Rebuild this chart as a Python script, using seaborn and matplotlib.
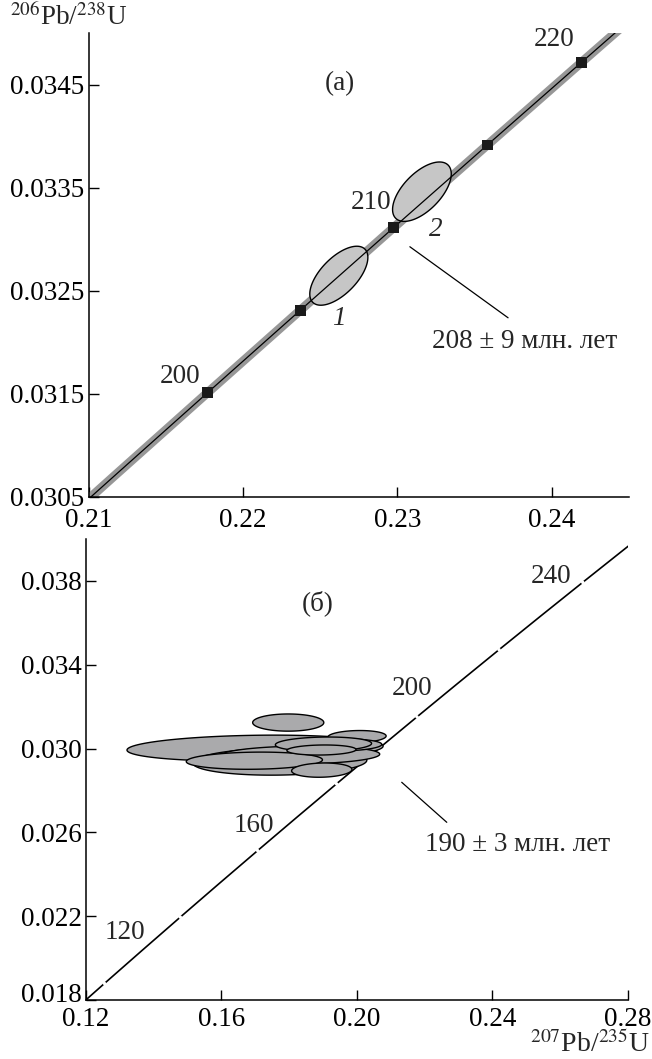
import numpy as np
import pandas as pd
import seaborn as sns
import matplotlib.pyplot as plt
from matplotlib.transforms import ScaledTranslation

# --- данные ---
# конкордия (возраст, млн лет; 207Pb/235U; 206Pb/238U)
conc_age_a = [190, 195, 200, 205, 210, 215, 220, 225]
conc_x_a = [0.205773, 0.211725, 0.217707, 0.223718, 0.229759, 0.235830, 0.241930, 0.248061]
conc_y_a = [0.0299124, 0.0307115, 0.0315113, 0.0323117, 0.0331127, 0.0339143, 0.0347165, 0.0355194]

conc_age_b = [110, 120, 130, 140, 150, 160, 170, 180, 190, 200, 210, 220, 230, 240, 250, 260]
conc_x_b = [0.114419, 0.125449, 0.136588, 0.147837, 0.159197, 0.170670, 0.182256, 0.193957,
            0.205773, 0.217707, 0.229759, 0.241930, 0.254222, 0.266635, 0.279171, 0.291832]
conc_y_b = [0.0172102, 0.0187893, 0.0203710, 0.0219550, 0.0235416, 0.0251306, 0.0267221, 0.0283160,
            0.0299124, 0.0315113, 0.0331127, 0.0347165, 0.0363229, 0.0379317, 0.0395431, 0.0411569]

# отметки возраста на панели (а)
mark_ages_a = [200, 205, 210, 215, 220]
mark_x_a = [0.217707, 0.223718, 0.229759, 0.235830, 0.241930]
mark_y_a = [0.0315113, 0.0323117, 0.0331127, 0.0339143, 0.0347165]

# разрывы на конкордии панели (б)
gap_ages_b = [120, 140, 160, 180, 200, 220, 240]
gap_x_b = [0.125449, 0.147837, 0.170670, 0.193957, 0.217707, 0.241930, 0.266635]
gap_y_b = [0.0187893, 0.0219550, 0.0251306, 0.0283160, 0.0315113, 0.0347165, 0.0379317]

# эллипсы погрешностей: центр x, центр y, полуширина x, полуширина y, корреляция
ell_a_x = [0.22621, 0.23159]
ell_a_y = [0.032646, 0.033461]
ell_a_sx = [0.00188, 0.00190]
ell_a_sy = [0.000286, 0.000288]
ell_a_rho = [0.62, 0.6]
ell_a_num = ["1", "2"]

ell_b_x = [0.1699, 0.1772, 0.1831, 0.1697, 0.2000, 0.1952, 0.1901, 0.1895, 0.1896, 0.1797]
ell_b_y = [0.03002, 0.02938, 0.02969, 0.02942, 0.03057, 0.03017, 0.03021, 0.02993, 0.02897, 0.03124]
ell_b_sx = [0.0378, 0.0257, 0.0236, 0.0201, 0.0086, 0.0121, 0.0142, 0.0102, 0.0089, 0.0105]
ell_b_sy = [0.00062, 0.00065, 0.00043, 0.00041, 0.00029, 0.00029, 0.00034, 0.00024, 0.00034, 0.00041]
ell_b_rho = [0.15, 0.1, 0.1, 0.1, 0.1, 0.1, 0.1, 0.1, 0.1, 0.0]

sns.set_theme(style="ticks")
plt.rcParams['font.family'] = ['Liberation Serif', 'DejaVu Serif']
plt.rcParams['mathtext.fontset'] = 'stix'
FS = 19.5


def ellipse(ax, cx, cy, sx, sy, rho, fc):
    t = np.linspace(0, 2 * np.pi, 300)
    x = cx + sx * np.cos(t)
    y = cy + sy * (rho * np.cos(t) + np.sqrt(1 - rho ** 2) * np.sin(t))
    ax.fill(x, y, facecolor=fc, edgecolor="black", lw=1.0, zorder=3)


def style_axes(ax, xpad):
    sns.despine(ax=ax)
    for s in ["left", "bottom"]:
        ax.spines[s].set_linewidth(1.1)
        ax.spines[s].set_color("black")
    ax.tick_params(direction="in", length=7, width=1.0, colors="black", labelsize=FS)
    ax.tick_params(axis="x", pad=xpad)
    ax.tick_params(axis="y", pad=3)
    ax.set_facecolor("white")
    ax.set_xlabel("")
    ax.set_ylabel("")


fig = plt.figure(figsize=(6.52, 10.59), dpi=100)
ax1 = fig.add_axes([88.5 / 652, (1059 - 497) / 1059, 540.5 / 652, 464 / 1059])
ax2 = fig.add_axes([86 / 652, 59 / 1059, 542 / 652, 461 / 1059])

# ---- панель (а) ----
da = pd.DataFrame({"x": conc_x_a, "y": conc_y_a})
sns.lineplot(data=da, x="x", y="y", ax=ax1, color="#979797", lw=6.5, zorder=1,
             solid_capstyle="butt")
for i in range(len(ell_a_x)):
    ellipse(ax1, ell_a_x[i], ell_a_y[i], ell_a_sx[i], ell_a_sy[i], ell_a_rho[i], "#c6c6c6")
sns.lineplot(data=da, x="x", y="y", ax=ax1, color="black", lw=0.9, zorder=4)
ma = pd.DataFrame({"x": mark_x_a, "y": mark_y_a})
sns.scatterplot(data=ma, x="x", y="y", ax=ax1, marker="s", s=60, color="#1a1a1a",
                edgecolor="none", zorder=5)

ax1.set_xlim(0.21, 0.245)
ax1.set_ylim(0.0305, 0.0350)
ax1.set_xticks([0.21, 0.22, 0.23, 0.24])
ax1.set_xticklabels(["0.21", "0.22", "0.23", "0.24"])
ax1.set_yticks([0.0305, 0.0315, 0.0325, 0.0335, 0.0345])
ax1.set_yticklabels(["0.0305", "0.0315", "0.0325", "0.0335", "0.0345"])
style_axes(ax1, 8)

ax1.text(0.2263, 0.03451, "(а)", fontsize=FS, ha="center", va="center")
ax1.text(0.2415, 0.03494, "220", fontsize=FS, ha="right", va="center")
ax1.text(0.22964, 0.03336, "210", fontsize=FS, ha="right", va="center")
ax1.text(0.21722, 0.03167, "200", fontsize=FS, ha="right", va="center")
ax1.text(0.22621, 0.03223, ell_a_num[0], fontsize=FS, style="italic", ha="center", va="center")
ax1.text(0.23249, 0.03309, ell_a_num[1], fontsize=FS, style="italic", ha="center", va="center")
ax1.plot([0.23081, 0.23717], [0.032927, 0.032238], color="black", lw=0.9)
ax1.text(0.23825, 0.032005, "208 ± 9 млн. лет", fontsize=FS, ha="center", va="center")

# ---- панель (б) ----
db = pd.DataFrame({"x": conc_x_b, "y": conc_y_b})
sns.lineplot(data=db, x="x", y="y", ax=ax2, color="black", lw=1.2, zorder=1)
gb = pd.DataFrame({"x": gap_x_b, "y": gap_y_b})
sns.scatterplot(data=gb, x="x", y="y", ax=ax2, marker="o", s=6, color="white",
                edgecolor="none", zorder=2)
for i in range(len(ell_b_x)):
    ellipse(ax2, ell_b_x[i], ell_b_y[i], ell_b_sx[i], ell_b_sy[i], ell_b_rho[i], "#aaaaac")

ax2.set_xlim(0.12, 0.28)
ax2.set_ylim(0.018, 0.040)
ax2.set_xticks([0.12, 0.16, 0.20, 0.24, 0.28])
ax2.set_xticklabels(["0.12", "0.16", "0.20", "0.24", "0.28"])
ax2.set_yticks([0.018, 0.022, 0.026, 0.030, 0.034, 0.038])
ax2.set_yticklabels(["0.018", "0.022", "0.026", "0.030", "0.034", "0.038"])
style_axes(ax2, 5)
# нижняя подпись 0.018 чуть выше, чтобы не наезжала на 0.12
lab0 = ax2.get_yticklabels()[0]
lab0.set_transform(lab0.get_transform() + ScaledTranslation(0, 7 / 100, fig.dpi_scale_trans))

ax2.text(0.1884, 0.03692, "(б)", fontsize=FS, ha="center", va="center")
ax2.text(0.2572, 0.03821, "240", fontsize=FS, ha="center", va="center")
ax2.text(0.2162, 0.03285, "200", fontsize=FS, ha="center", va="center")
ax2.text(0.1696, 0.02633, "160", fontsize=FS, ha="center", va="center")
ax2.text(0.1315, 0.02121, "120", fontsize=FS, ha="center", va="center")
ax2.plot([0.2132, 0.2265], [0.02839, 0.02648], color="black", lw=0.9)
ax2.text(0.2474, 0.02542, "190 ± 3 млн. лет", fontsize=FS, ha="center", va="center")

fig.text(10 / 652, 1 - 3 / 1059, "$^{206}$Pb/$^{238}$U", fontsize=FS, ha="left", va="top")
fig.text(1 - 2 / 652, 0.5 / 1059, "$^{207}$Pb/$^{235}$U", fontsize=20, ha="right", va="bottom")

fig.savefig("out.png", dpi=100, facecolor="white")
